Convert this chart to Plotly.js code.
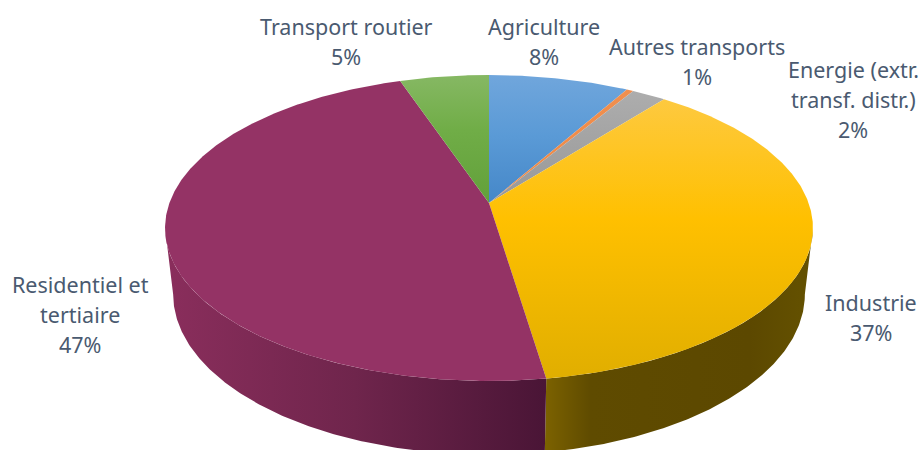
<!DOCTYPE html>
<html>
<head>
<meta charset="utf-8">
<script src="https://cdn.plot.ly/plotly-3.0.0.min.js"></script>
<style>html,body{margin:0;padding:0;background:#fff}#chart{width:920px;height:450px}</style>
</head>
<body>
<div id="chart"></div>
<script>
// Data (shares in %, clockwise from 12 o'clock)
var categories = ['Agriculture', 'Autres transports', 'Energie (extr. transf. distr.)', 'Industrie', 'Residentiel et tertiaire', 'Transport routier'];
var shares = [8.2, 0.4, 2.0, 37.0, 47.2, 5.2];
var labels = ['Agriculture<br>8%', 'Autres transports<br>1%', 'Energie (extr.<br>transf. distr.)<br>2%', 'Industrie<br>37%', 'Residentiel et<br>tertiaire<br>47%', 'Transport routier<br>5%'];
var topColors = [
  [[0,'#70a6dc'],[0.2,'#5a9ad6'],[0.42,'#4587c8'],[1,'#4587c8']],
  [[0,'#f09050'],[1,'#ed7d31']],
  [[0,'#b0b0b0'],[0.38,'#9a9a9a'],[1,'#9a9a9a']],
  [[0,'#fdcb4c'],[0.47,'#ffc000'],[1,'#e0ae00']],
  [[0,'#943365'],[1,'#943365']],
  [[0,'#86b863'],[0.18,'#70ad47'],[0.42,'#62a03a'],[1,'#62a03a']]
];
var wallColors = {
  3: {start:545, stop:800, scale:[[0,'#7c6200'],[0.18,'#5f4b00'],[0.8,'#5c4800'],[1,'#635000']]},
  4: {start:165, stop:545, scale:[[0,'#8a2e5c'],[0.5,'#6f254c'],[1,'#4a1536']]}
};
var labelSpots = [[544,41],[697,61],[853,99],[871,317],[80,314],[346,41]];
var lineGap = 30;

// Projection of the disc
var cx=489, cy=203, rx=319.6, ry=148.9, k=0.1634;
var baseScaleX=0.975, baseScaleY=1.05, baseDrop=65;
var visibleFrom=99.4, visibleTo=260.6;

function project(deg, lower){
  var t=deg*Math.PI/180, X=Math.sin(t), Y=Math.cos(t), w=1+k*Y;
  var px=rx*X/w, py=-ry*Y/w;
  if(lower){ px*=baseScaleX; py=py*baseScaleY+baseDrop; }
  return [cx+px, cy+py];
}
function arc(a,b,lower){
  var out=[], n=Math.max(2,Math.ceil(Math.abs(b-a)*2));
  for(var i=0;i<=n;i++) out.push(project(a+(b-a)*i/n,lower));
  return out;
}
function polyTrace(pts,grad){
  var xs=pts.map(function(p){return p[0];}), ys=pts.map(function(p){return p[1];});
  xs.push(xs[0]); ys.push(ys[0]);
  return {type:'scatter',mode:'lines',x:xs,y:ys,fill:'toself',line:{width:0,color:'rgba(0,0,0,0)'},
          fillcolor:grad.scale[0][1],fillgradient:{type:grad.type,colorscale:grad.scale,start:grad.start,stop:grad.stop},
          hoverinfo:'skip',showlegend:false};
}
var edges=[0];
shares.forEach(function(v,i){edges.push(edges[i]+v);});
var walls=[], faces=[];
shares.forEach(function(v,i){
  var a=edges[i]*3.6, b=edges[i+1]*3.6;
  var wa=Math.max(a,visibleFrom), wb=Math.min(b,visibleTo);
  if(wb>wa && wallColors[i]){
    var pts=arc(wa,wb,false).concat(arc(wa,wb,true).reverse());
    walls.push(polyTrace(pts,{type:'horizontal',scale:wallColors[i].scale,start:wallColors[i].start,stop:wallColors[i].stop}));
  }
  faces.push(polyTrace(arc(a,b,false).concat([[cx,cy]]),{type:'vertical',scale:topColors[i],start:75,stop:381}));
});
var annotations=[];
labels.forEach(function(t,i){
  var lines=t.split('<br>');
  lines.forEach(function(line,j){
    annotations.push({x:labelSpots[i][0],y:labelSpots[i][1]+(j-(lines.length-1)/2)*lineGap,xref:'x',yref:'y',text:line,showarrow:false,
      align:'center',xanchor:'center',yanchor:'middle',font:{family:'"Noto Sans", sans-serif',size:21.5,color:'#4a5a70'}});
  });
});
Plotly.newPlot('chart',walls.concat(faces),{
  width:920,height:450,margin:{l:0,r:0,t:0,b:0},paper_bgcolor:'#fff',plot_bgcolor:'#fff',showlegend:false,
  xaxis:{range:[0,920],visible:false,fixedrange:true},
  yaxis:{range:[450,0],visible:false,fixedrange:true},
  annotations:annotations,hovermode:false
},{displayModeBar:false,staticPlot:true});
</script>
</body>
</html>
